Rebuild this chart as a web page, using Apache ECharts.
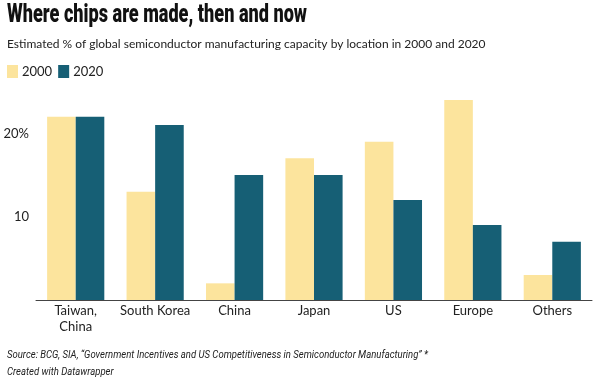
<!DOCTYPE html>
<html><head><meta charset="utf-8">
<script src="https://cdn.jsdelivr.net/npm/echarts@6/dist/echarts.min.js"></script>
<style>html,body{margin:0;padding:0;background:#fff}#c{width:600px;height:383px}</style>
</head><body><div id="c"></div>
<script>
const categories = ['Taiwan,\nChina', 'South Korea', 'China', 'Japan', 'US', 'Europe', 'Others'];
const values2000 = [22, 13, 2, 17, 19, 24, 3];
const values2020 = [22, 21, 15, 15, 12, 9, 7];
const seriesNames = ['2000', '2020'];
const yTicks = {10: '10', 20: '20%'};

const titleText = 'Where chips are made, then and now';
const subtitleText = 'Estimated % of global semiconductor manufacturing capacity by location in 2000 and 2020';
const sourceText = 'Source: BCG, SIA, \u201cGovernment Incentives and US Competitiveness in Semiconductor Manufacturing\u201d *';
const creditText = 'Created with Datawrapper';

// measure text to condense it to target widths
const cv = document.createElement('canvas').getContext('2d');
function fitScale(text, font, target) { cv.font = font; return target / cv.measureText(text).width; }
const titleFont = '900 25px Roboto';
const footFont = 'italic 11.5px Roboto';
const titleScale = fitScale(titleText, titleFont, 300);
const srcScale = fitScale(sourceText, footFont, 421);

const chart = echarts.init(document.getElementById('c'), null, {renderer: 'canvas'});
chart.setOption({
  animation: false,
  textStyle: {fontFamily: 'Lato'},
  graphic: [
    {type: 'text', x: 7, y: 3, scaleX: titleScale,
     style: {text: titleText, font: titleFont, fill: '#111', textVerticalAlign: 'top'}},
    {type: 'text', x: 7, y: 349, scaleX: srcScale,
     style: {text: sourceText, font: footFont, fill: '#222'}},
    {type: 'text', x: 7, y: 366, scaleX: srcScale,
     style: {text: creditText, font: footFont, fill: '#222'}}
  ],
  title: [
    {text: subtitleText, left: 2, top: 33,
     textStyle: {fontFamily: 'Lato', fontWeight: 'normal', fontSize: 12, color: '#222'}}
  ],
  legend: {
    left: 2, top: 60, itemWidth: 11, itemHeight: 13, itemGap: 6,
    icon: 'rect',
    textStyle: {fontFamily: 'Lato', fontSize: 13, color: '#222', padding: [0, 0, 0, -1]},
    data: seriesNames
  },
  grid: {left: 36, right: 8, top: 100, bottom: 83, containLabel: false},
  xAxis: {
    type: 'category', data: categories,
    axisLine: {lineStyle: {color: '#444', width: 1}},
    axisTick: {show: false},
    axisLabel: {interval: 0, color: '#222', fontSize: 13, fontFamily: 'Lato', margin: 3, lineHeight: 16}
  },
  yAxis: {
    type: 'value', min: 0, max: 24, interval: 10,
    splitLine: {show: false}, axisLine: {show: false}, axisTick: {show: false},
    axisLabel: {color: '#222', fontSize: 13, fontFamily: 'Lato', margin: 7,
      formatter: v => yTicks[v] || ''}
  },
  series: [
    {name: seriesNames[0], type: 'bar', data: values2000, barGap: '0%', barCategoryGap: '28%',
     itemStyle: {color: '#fce49d'}},
    {name: seriesNames[1], type: 'bar', data: values2020, barGap: '0%', barCategoryGap: '28%',
     itemStyle: {color: '#165f75'}}
  ]
});
</script></body></html>
